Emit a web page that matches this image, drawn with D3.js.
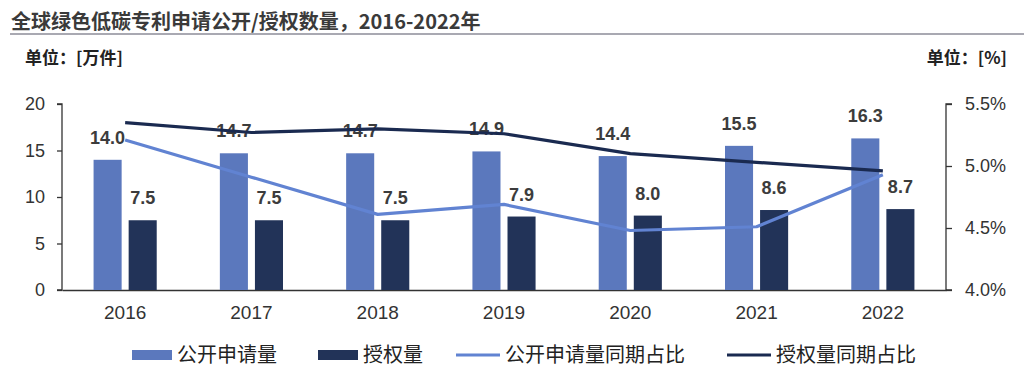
<!DOCTYPE html>
<html>
<head>
<meta charset="utf-8">
<script src="https://cdn.jsdelivr.net/npm/d3@7/dist/d3.min.js"></script>
<style>
  body { margin: 0; background: #fff; }
  svg { display: block; font-family: "Liberation Sans", Arial, "Noto Sans CJK SC", sans-serif; }
</style>
</head>
<body>
<div id="chart"></div>
<script>
const years = ["2016", "2017", "2018", "2019", "2020", "2021", "2022"];
const pubCount = [14.0, 14.7, 14.7, 14.9, 14.4, 15.5, 16.3];
const grantCount = [7.5, 7.5, 7.5, 7.9, 8.0, 8.6, 8.7];
const pubShare = [5.21, 4.91, 4.61, 4.69, 4.48, 4.51, 4.93];
const grantShare = [5.35, 5.27, 5.30, 5.26, 5.10, 5.03, 4.96];
const leftTicks = [0, 5, 10, 15, 20];
const rightTicks = [4.0, 4.5, 5.0, 5.5];

const width = 1024;
const height = 382;
const cjk = '"Noto Sans CJK SC", "Liberation Sans", sans-serif';

const colPub = "#5b78bd";
const colGrant = "#223358";
const colPubLine = "#6183d2";
const colGrantLine = "#1a2a50";

const svg = d3.select("#chart")
	.append("svg")
	.attr("width", width)
	.attr("height", height);

// title
svg.append("text")
	.attr("x", 11)
	.attr("y", 29)
	.style("font-family", cjk)
	.style("font-size", "20px")
	.style("font-weight", "bold")
	.attr("fill", "#3a3a3a")
	.text("全球绿色低碳专利申请公开/授权数量，2016-2022年");

svg.append("line")
	.attr("x1", 10).attr("x2", width)
	.attr("y1", 34).attr("y2", 34)
	.attr("stroke", "#8c8c99")
	.attr("stroke-width", 1.5);

svg.append("text")
	.attr("x", 25)
	.attr("y", 64)
	.style("font-family", cjk)
	.style("font-size", "17px")
	.style("font-weight", "bold")
	.attr("fill", "#222")
	.text("单位：[万件]");

svg.append("text")
	.attr("x", 1007)
	.attr("y", 64)
	.attr("text-anchor", "end")
	.style("font-family", cjk)
	.style("font-size", "17px")
	.style("font-weight", "bold")
	.attr("fill", "#222")
	.text("单位：[%]");

const plotLeft = 62, plotRight = 946, plotTop = 104, plotBottom = 290;

const x0 = d3.scaleBand()
	.domain(years)
	.range([plotLeft, plotRight])
	.padding(0);

const x1 = d3.scaleBand()
	.domain(["pub", "grant"])
	.range([x0.bandwidth() * 0.25, x0.bandwidth() * 0.75])
	.paddingInner(0.2);

const yL = d3.scaleLinear().domain([0, 20]).range([plotBottom, plotTop]);
const yR = d3.scaleLinear().domain([4.0, 5.5]).range([plotBottom, plotTop]);

// axes
const axisLeft = d3.axisLeft(yL).tickValues(leftTicks).tickSize(5).tickPadding(12);
const gL = svg.append("g")
	.attr("transform", `translate(${plotLeft},0)`)
	.call(axisLeft);

const axisRight = d3.axisRight(yR).tickValues(rightTicks).tickSize(6).tickPadding(13)
	.tickFormat(d => d.toFixed(1) + "%");
const gR = svg.append("g")
	.attr("transform", `translate(${plotRight},0)`)
	.call(axisRight);

const axisBottom = d3.axisBottom(x0).tickSize(0).tickPadding(16);
const gB = svg.append("g")
	.attr("transform", `translate(0,${plotBottom})`)
	.call(axisBottom);

[gL, gR, gB].forEach(g => {
	g.selectAll("path.domain").attr("stroke", "#333").attr("stroke-width", 1.3);
	g.selectAll(".tick line").attr("stroke", "#333").attr("stroke-width", 1.3);
	g.selectAll(".tick text")
		.attr("fill", "#333")
		.style("font-size", "18px")
		.style("font-family", '"Liberation Sans", Arial, sans-serif');
});
gB.selectAll(".tick text").style("font-size", "19px");
gL.select("path.domain").attr("d", `M-5,${plotTop}H0V${plotBottom}H-5`);
gR.select("path.domain").attr("d", `M6,${plotTop}H0V${plotBottom}H6`);

// bars
const rows = years.map((y, i) => ({year: y, pub: pubCount[i], grant: grantCount[i]}));

const groups = svg.append("g")
	.selectAll("g")
	.data(rows)
	.enter()
	.append("g")
	.attr("transform", d => `translate(${x0(d.year)},0)`);

groups.selectAll("rect")
	.data(d => [{key: "pub", value: d.pub}, {key: "grant", value: d.grant}])
	.enter()
	.append("rect")
	.attr("x", d => x1(d.key))
	.attr("y", d => yL(d.value))
	.attr("width", x1.bandwidth())
	.attr("height", d => yL(0) - yL(d.value))
	.attr("fill", d => d.key === "pub" ? colPub : colGrant);

// lines
const cx = d => x0(d) + x0.bandwidth() / 2;

const shareLine = d3.line()
	.x((d, i) => cx(years[i]))
	.y(d => yR(d));

svg.append("path")
	.datum(pubShare)
	.attr("d", shareLine)
	.attr("fill", "none")
	.attr("stroke", colPubLine)
	.attr("stroke-width", 3.2)
	.attr("stroke-linejoin", "round");

svg.append("path")
	.datum(grantShare)
	.attr("d", shareLine)
	.attr("fill", "none")
	.attr("stroke", colGrantLine)
	.attr("stroke-width", 3.2)
	.attr("stroke-linejoin", "round");

// value labels
groups.selectAll("text.val")
	.data(d => [{key: "pub", value: d.pub}, {key: "grant", value: d.grant}])
	.enter()
	.append("text")
	.attr("class", "val")
	.attr("x", d => x1(d.key) + x1.bandwidth() / 2)
	.attr("y", d => yL(d.value) - 16)
	.attr("text-anchor", "middle")
	.attr("fill", "#3c3c3c")
	.style("font-size", "18px")
	.style("font-weight", "bold")
	.text(d => d.value.toFixed(1));

// legend
const legendItems = [
	{label: "公开申请量", type: "rect", color: colPub, x: 132},
	{label: "授权量", type: "rect", color: colGrant, x: 318},
	{label: "公开申请量同期占比", type: "line", color: colPubLine, x: 456},
	{label: "授权量同期占比", type: "line", color: colGrantLine, x: 727}
];

const lg = svg.append("g")
	.selectAll("g")
	.data(legendItems)
	.enter()
	.append("g")
	.attr("transform", d => `translate(${d.x},355)`);

lg.filter(d => d.type === "rect")
	.append("rect")
	.attr("x", 0).attr("y", -5)
	.attr("width", 40).attr("height", 10)
	.attr("fill", d => d.color);

lg.filter(d => d.type === "line")
	.append("line")
	.attr("x1", 0).attr("x2", 44)
	.attr("y1", 0).attr("y2", 0)
	.attr("stroke", d => d.color)
	.attr("stroke-width", 3.2);

lg.append("text")
	.attr("x", d => d.type === "rect" ? 45 : 49)
	.attr("y", 0)
	.attr("dy", "0.36em")
	.style("font-family", cjk)
	.style("font-size", "20px")
	.attr("fill", "#222")
	.text(d => d.label);
</script>
</body>
</html>
